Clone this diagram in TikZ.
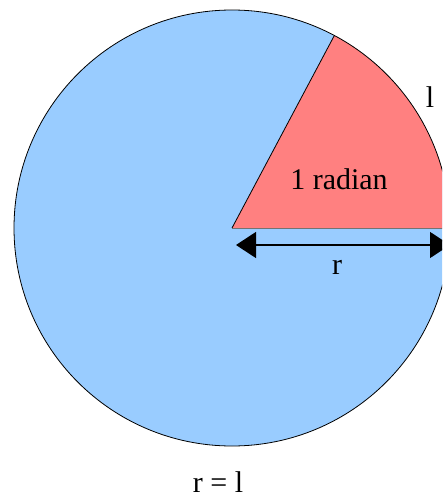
\documentclass[tikz,border=0pt]{standalone}
\usepackage{fontspec}
\setmainfont{Liberation Serif}
\usetikzlibrary{arrows.meta}
\definecolor{discblue}{HTML}{99CCFF}
\definecolor{sectorred}{HTML}{FF8080}
\begin{document}
\begin{tikzpicture}[x=1pt,y=-1pt,
  lbl/.style={font=\fontsize{30}{34}\selectfont, inner sep=0pt, text=black},
  dimarrow/.style={draw=black, line width=1.2pt, {Triangle[length=20pt,width=26pt]}-{Triangle[length=20pt,width=26pt]}}]
\useasboundingbox (0,0) rectangle (442,500);
\clip (0,0) rectangle (442,500);
\coordinate (O) at (232,228);
% disc
\fill[discblue] (O) circle (218);
% sector of 1 radian
\fill[sectorred] (O) -- ++(0:218) arc[start angle=0, end angle=-62, radius=218] -- cycle;
\draw[black!55, line width=1pt] (O) -- ++(0:218);
\draw[black, line width=0.8pt] (O) -- ++(-62:218);
\draw[black, line width=0.8pt] (O) circle (218);
% radius arrow
\coordinate (A) at (236,245);
\coordinate (B) at (450,245);
\draw[dimarrow] (A) -- (B);
% labels
\node[lbl] (rad) at (339,179) {1 radian};
\node[lbl] (r) at (337,267) {r};
\node[lbl] (l) at (430,97) {l};
\node[lbl] (eq) at (218,482) {r = l};
\end{tikzpicture}
\end{document}
